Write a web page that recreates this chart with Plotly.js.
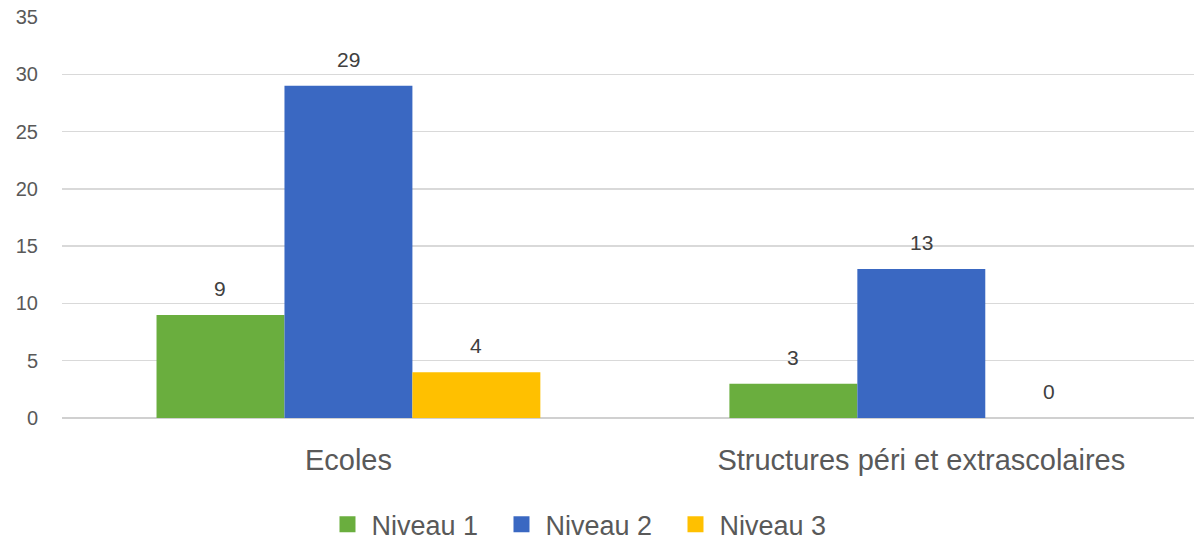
<!DOCTYPE html>
<html>
<head>
<meta charset="utf-8">
<script src="https://cdn.plot.ly/plotly-3.0.1.min.js"></script>
<style>html,body{margin:0;padding:0;background:#fff;}#chart{width:1194px;height:542px;}</style>
</head>
<body>
<div id="chart"></div>
<script>
const categories = ["Ecoles", "Structures péri et extrascolaires"];
const seriesNames = ["Niveau 1", "Niveau 2", "Niveau 3"];
const niveau1 = [9, 3];
const niveau2 = [29, 13];
const niveau3 = [4, 0];
const yTicks = [0, 5, 10, 15, 20, 25, 30, 35];

const colors = ["#6AAE3E", "#3A68C2", "#FFC000"];
const values = [niveau1, niveau2, niveau3];
const FONT = "Liberation Sans, Arial, sans-serif";

const traces = values.map((v, i) => ({
  type: "bar",
  name: seriesNames[i],
  x: categories,
  y: v,
  showlegend: false,
  marker: {color: colors[i], line: {width: 0}}
}));

// legend entries as square markers
values.forEach((v, i) => {
  traces.push({
    type: "scatter",
    mode: "markers",
    name: seriesNames[i],
    x: [null],
    y: [null],
    showlegend: true,
    marker: {symbol: "square", size: 19, color: colors[i]}
  });
});

const plotW = 1194 - 62;
const xRange = [-0.5, 1.476];
const pxPerCat = plotW / (xRange[1] - xRange[0]);
const bargap = 0.33;
const barPx = pxPerCat * (1 - bargap) / 3;

const annotations = [];
values.forEach((v, i) => {
  v.forEach((val, j) => {
    annotations.push({
      x: categories[j],
      y: val,
      xref: "x",
      yref: "y",
      text: String(val),
      showarrow: false,
      xshift: (i - 1) * barPx,
      yanchor: "bottom",
      yshift: 13,
      font: {family: FONT, size: 21, color: "#404040"}
    });
  });
});

const layout = {
  width: 1194,
  height: 542,
  margin: {l: 62, r: 0, t: 17, b: 124, autoexpand: false},
  paper_bgcolor: "#fff",
  plot_bgcolor: "#fff",
  barmode: "group",
  bargap: bargap,
  bargroupgap: 0,
  font: {family: FONT, color: "#595959"},
  annotations: annotations,
  xaxis: {
    range: xRange,
    showgrid: false,
    zeroline: false,
    showline: false,
    ticks: "",
    ticklabelstandoff: 22,
    tickfont: {size: 29, color: "#595959"}
  },
  yaxis: {
    range: [0, 35],
    tickvals: yTicks,
    ticktext: yTicks.map(String),
    showgrid: true,
    gridcolor: "#D9D9D9",
    gridwidth: 1.5,
    zeroline: true,
    zerolinecolor: "#D0D0D0",
    zerolinewidth: 2,
    showline: false,
    ticks: "",
    ticklabelstandoff: 23,
    tickfont: {size: 20, color: "#595959"}
  },
  showlegend: true,
  legend: {
    orientation: "h",
    x: 0.231,
    xanchor: "left",
    y: -0.205,
    yanchor: "top",
    font: {size: 27, color: "#595959"},
    itemwidth: 38,
    entrywidth: 121,
    entrywidthmode: "pixels",
    traceorder: "normal"
  }
};

Plotly.newPlot("chart", traces, layout, {displayModeBar: false, staticPlot: true});
</script>
</body>
</html>
